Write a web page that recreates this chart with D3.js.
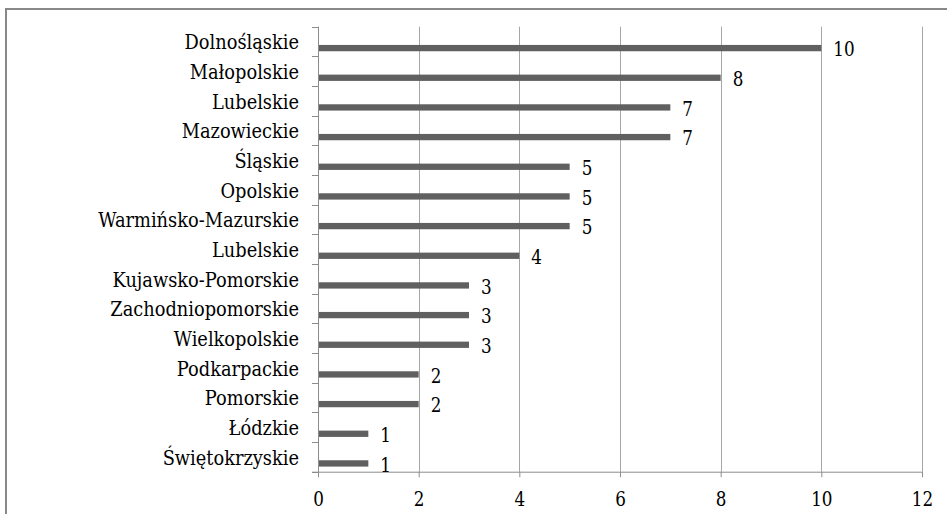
<!DOCTYPE html>
<html>
<head>
<meta charset="utf-8">
<script src="https://cdn.jsdelivr.net/npm/d3@7"></script>
<style>
  html, body { margin: 0; padding: 0; background: #fff; }
  svg { display: block; }
  svg text { font-family: 'DejaVu Serif', 'Liberation Serif', serif; fill: #000; }
</style>
</head>
<body>
<svg id="chart" width="947" height="514"></svg>
<script>
const categories = ["Dolnośląskie", "Małopolskie", "Lubelskie", "Mazowieckie", "Śląskie", "Opolskie",
  "Warmińsko-Mazurskie", "Lubelskie", "Kujawsko-Pomorskie", "Zachodniopomorskie", "Wielkopolskie",
  "Podkarpackie", "Pomorskie", "Łódzkie", "Świętokrzyskie"];
const values = [10, 8, 7, 7, 5, 5, 5, 4, 3, 3, 3, 2, 2, 1, 1];
const xTicks = [0, 2, 4, 6, 8, 10, 12];

(function () {
const svg = d3.select("#chart");
const W = 947, H = 514;
const pLeft = 318, pRight = 922, pTop = 26.7, pBottom = 471.7;
const SX_CAT = 0.89, SX_NUM = 0.84;

svg.append("rect").attr("x", 6).attr("y", 9).attr("width", W + 10).attr("height", H + 10)
  .attr("fill", "none").attr("stroke", "#888").attr("stroke-width", 2);

const x = d3.scaleLinear().domain([0, 12]).range([pLeft, pRight]);
const idx = d3.range(categories.length);
const y = d3.scaleBand().domain(idx).range([pTop, pBottom]).paddingInner(0).paddingOuter(0);
const bw = y.bandwidth();

// gridlines
svg.append("g").selectAll("line").data(xTicks.filter(d => d > 0)).join("line")
  .attr("x1", d => Math.round(x(d)) + 0.5).attr("x2", d => Math.round(x(d)) + 0.5)
  .attr("y1", pTop).attr("y2", pBottom)
  .attr("stroke", "#a6a6a6").attr("stroke-width", 1);

// x axis
const xAxis = d3.axisBottom(x).tickValues(xTicks).tickSize(5.5).tickPadding(0).tickFormat(d3.format("d"));
const gx = svg.append("g").attr("transform", `translate(0,${pBottom})`).call(xAxis)
  .attr("font-size", 20);
gx.select(".domain").attr("d", `M${pLeft - 6},0.5H${pRight}`).attr("stroke", "#8c8c8c");
gx.selectAll(".tick line").attr("stroke", "#8c8c8c");
gx.selectAll(".tick text").attr("fill", "#000").attr("y", 0).attr("dy", null)
  .attr("transform", `translate(0,34) scale(${SX_NUM},1)`);

// y axis line and boundary ticks
svg.append("line").attr("x1", pLeft + 0.5).attr("x2", pLeft + 0.5).attr("y1", pTop).attr("y2", pBottom + 5.5)
  .attr("stroke", "#8c8c8c");
const bounds = idx.map(i => y(i)).concat([pBottom]);
svg.append("g").selectAll("line").data(bounds).join("line")
  .attr("x1", pLeft - 6).attr("x2", pLeft).attr("y1", d => Math.round(d) + 0.5).attr("y2", d => Math.round(d) + 0.5)
  .attr("stroke", "#8c8c8c");

// bars
svg.append("g").selectAll("rect").data(idx).join("rect")
  .attr("x", pLeft + 1).attr("y", i => y(i) + bw * 0.615)
  .attr("width", i => x(values[i]) - pLeft - 1).attr("height", 6.3)
  .attr("fill", "#606060");

// category labels
svg.append("g").attr("font-size", 20)
  .selectAll("text").data(idx).join("text")
  .attr("transform", i => `translate(299,${y(i) + 22.5}) scale(${SX_CAT},1)`)
  .attr("text-anchor", "end")
  .text(i => categories[i]);

// value labels
svg.append("g").attr("font-size", 20)
  .selectAll("text").data(idx).join("text")
  .attr("transform", i => `translate(${x(values[i]) + 12},${y(i) + 29.5}) scale(${SX_NUM},1)`)
  .text(i => values[i]);
})();
</script>
</body>
</html>
